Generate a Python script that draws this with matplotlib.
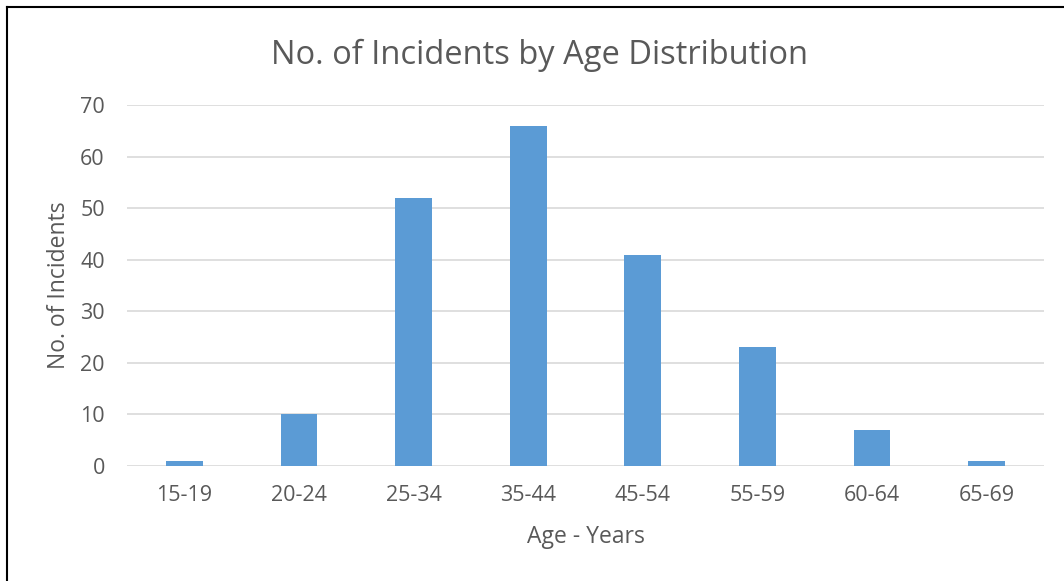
import matplotlib.pyplot as plt
from matplotlib.lines import Line2D

# Incident counts per age band
age_groups = ['15-19', '20-24', '25-34', '35-44', '45-54', '55-59', '60-64', '65-69']
incidents = [1, 10, 52, 66, 41, 23, 7, 1]
yticks = [0, 10, 20, 30, 40, 50, 60, 70]

plt.rcParams['font.family'] = ['Open Sans', 'DejaVu Sans']
txt = '#595959'

fig = plt.figure(figsize=(10.64, 5.81), dpi=100)
ax = fig.add_axes([0.1194, 0.198, 0.8618, 0.6212])

x = range(len(age_groups))
ax.bar(x, incidents, width=0.32, color='#5B9BD5', zorder=3)

ax.set_xlim(-0.5, len(age_groups) - 0.5)
ax.set_ylim(0, 70)
ax.set_yticks(yticks)
ax.set_xticks(list(x))
ax.set_xticklabels(age_groups)
ax.grid(axis='y', color='#D9D9D9', lw=1.2, zorder=0)
ax.tick_params(length=0, labelsize=15.5, colors=txt)
ax.tick_params(axis='x', pad=14)
ax.tick_params(axis='y', pad=16)
for s in ax.spines.values():
    s.set_visible(False)

fig.text(0.5075, 0.904, 'No. of Incidents by Age Distribution', ha='center', va='center',
         fontsize=23.5, color=txt)
fig.text(0.551, 0.075, 'Age - Years', ha='center', va='center', fontsize=16.5, color=txt)
fig.text(0.055, 0.51, 'No. of Incidents', ha='center', va='center', rotation=90,
         fontsize=16.5, color=txt)

# frame on the left and top edge
fig.add_artist(Line2D([0.0065, 0.0065], [0, 0.988], color='black', lw=1.5))
fig.add_artist(Line2D([0.0065, 1], [0.988, 0.988], color='black', lw=1.5))

fig.savefig('out.png', dpi=100)
